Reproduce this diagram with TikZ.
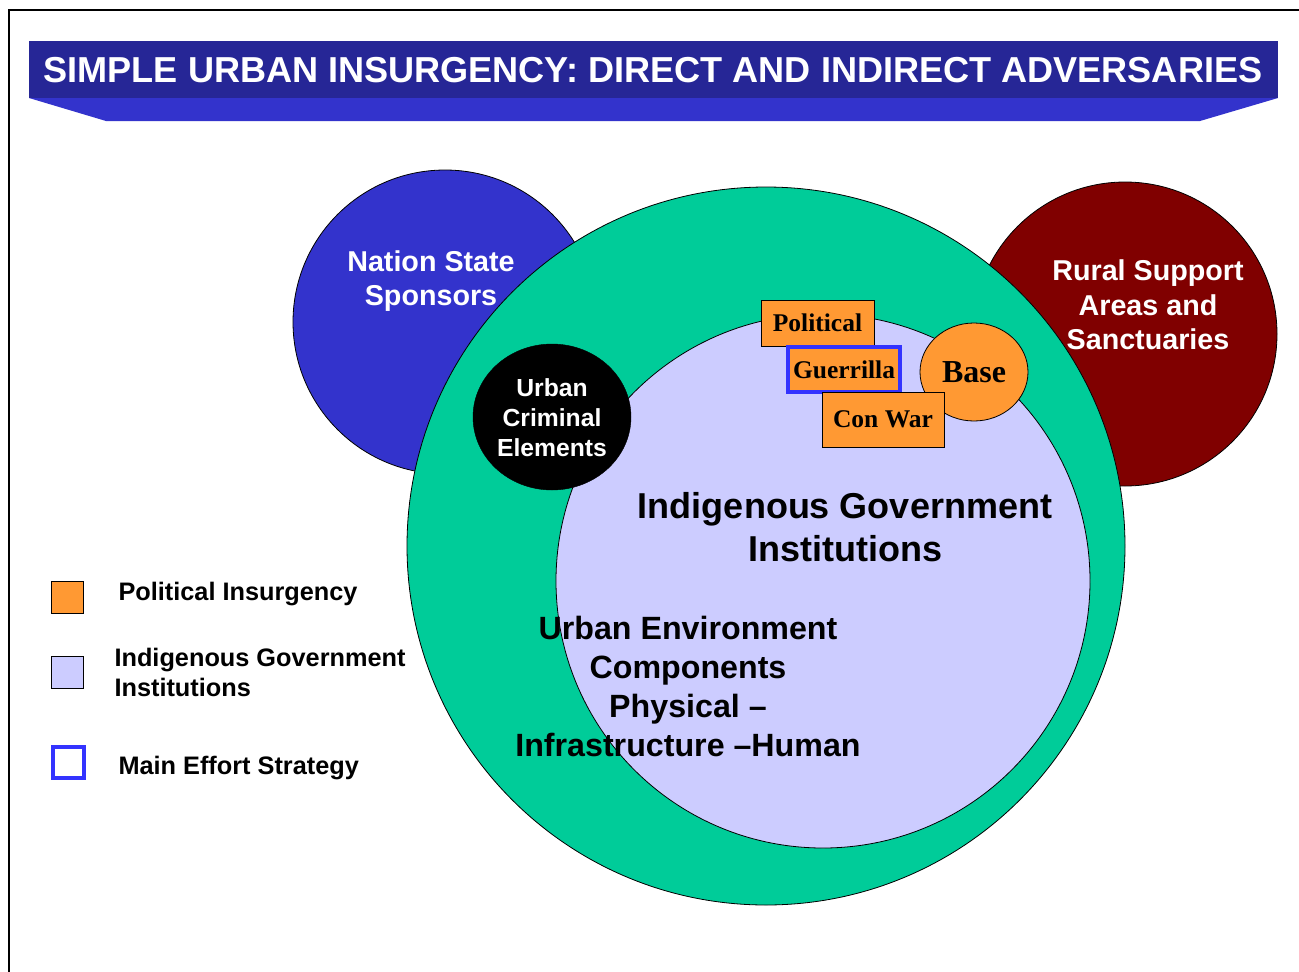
\documentclass[tikz,border=0pt]{standalone}
\usepackage{fontspec}
\setmainfont{Liberation Sans}
\newfontfamily\tms{Liberation Serif}
\usetikzlibrary{shapes.geometric}
\definecolor{bandDark}{HTML}{262696}
\definecolor{bandLight}{HTML}{3333CC}
\definecolor{sponsor}{HTML}{3333CC}
\definecolor{rural}{HTML}{800000}
\definecolor{greenc}{HTML}{00CC99}
\definecolor{lav}{HTML}{CCCCFF}
\definecolor{orng}{HTML}{FF9933}
\definecolor{effort}{HTML}{3333FF}
\begin{document}
\begin{tikzpicture}[x=1pt,y=-1pt,
  disc/.style={circle,draw=black,line width=0.8pt,inner sep=0pt},
  whitelbl/.style={text=white,align=center,font=\bfseries\fontsize{28.7}{34.5}\selectfont},
  blacklbl/.style={text=black,align=center},
  insbox/.style={rectangle,draw=black,line width=0.8pt,fill=orng,inner sep=0pt,font=\tms\bfseries\fontsize{25.5}{30}\selectfont},
  legsq/.style={rectangle,draw=black,line width=0.8pt,minimum size=32pt,inner sep=0pt},
  legtxt/.style={anchor=west,align=left,font=\bfseries\fontsize{25.3}{30}\selectfont}
]
\useasboundingbox (0,0) rectangle (1299,972);
\fill[white] (0,0) rectangle (1299,972);
\draw[line width=1.5pt] (9,972) -- (9,10) -- (1299,10);

% title banner
\fill[bandLight] (29,98) -- (1278,98) -- (1200,121) -- (106,121) -- cycle;
\fill[bandDark] (29,41) rectangle (1278,98);
\node[text=white,font=\bfseries\fontsize{36.1}{43}\selectfont] (title) at (653,70)
  {SIMPLE URBAN INSURGENCY: DIRECT AND INDIRECT ADVERSARIES};

% outer circles
\node[disc,fill=sponsor,minimum size=304pt] (nss) at (445,322) {};
\node[disc,fill=rural,minimum size=304pt] (rsa) at (1125,334) {};
\node[disc,fill=greenc,minimum size=718pt] (urb) at (766,546) {};
\node[disc,fill=lav,minimum size=534pt] (igi) at (823,581) {};
\node[ellipse,draw=black,fill=black,minimum width=158pt,minimum height=146pt,inner sep=0pt] (uce) at (552,417) {};

\node[whitelbl] (nsstxt) at (431,281) {Nation State\\Sponsors};
\node[whitelbl] (rsatxt) at (1148,305) {Rural Support\\Areas and\\Sanctuaries};
\node[whitelbl,font=\bfseries\fontsize{24.7}{30}\selectfont] (ucetxt) at (552,418) {Urban\\Criminal\\Elements};
\node[blacklbl,font=\bfseries\fontsize{36}{43}\selectfont] (igitxt) at (845,527) {Indigenous Government\\Institutions};
\node[blacklbl,font=\bfseries\fontsize{32.2}{39}\selectfont] (urbtxt) at (688,686)
  {Urban Environment\\Components\\Physical --\\Infrastructure --Human};

% insurgency boxes
\node[insbox,minimum width=113pt,minimum height=46pt] (pol) at (817.5,323) {Political};
\node[insbox,draw=effort,line width=4pt,minimum width=112pt,minimum height=45pt] (gue) at (844,369.5) {Guerrilla};
\node[ellipse,draw=black,line width=0.8pt,fill=orng,minimum width=108pt,minimum height=98pt,inner sep=0pt,
  font=\tms\bfseries\fontsize{32}{36}\selectfont] (base) at (974,372) {Base};
\node[insbox,minimum width=122pt,minimum height=55pt] (con) at (883,419.5) {Con War};

% legend
\node[legsq,fill=orng] (lg1) at (67,597) {};
\node[legsq,fill=lav] (lg2) at (67,672) {};
\node[legsq,draw=effort,line width=4pt,minimum size=31pt,fill=white] (lg3) at (68.5,762) {};
\node[legtxt] (lt1) at (115,594) {Political Insurgency};
\node[legtxt] (lt2) at (111,672) {Indigenous Government\\Institutions};
\node[legtxt] (lt3) at (115,768) {Main Effort Strategy};
\end{tikzpicture}
\end{document}
